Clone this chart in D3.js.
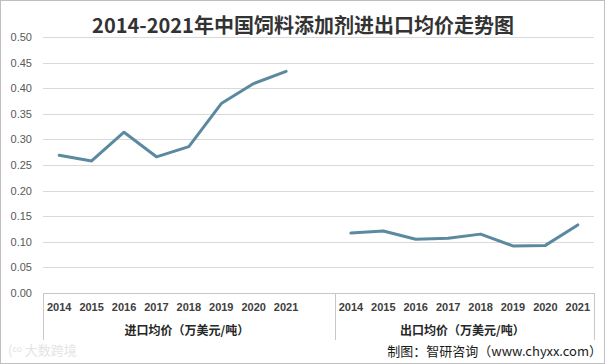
<!DOCTYPE html>
<html>
<head>
<meta charset="utf-8">
<script src="https://cdn.jsdelivr.net/npm/d3@7"></script>
<style>
  html, body { margin: 0; padding: 0; background: #fff; }
  #chart { width: 605px; height: 364px; }
</style>
</head>
<body>
<div id="chart"></div>
<script>
const YEARS = ["2014", "2015", "2016", "2017", "2018", "2019", "2020", "2021"];
const GROUPS = ["进口均价（万美元/吨）", "出口均价（万美元/吨）"];
const IMPORT_PRICE = [0.269, 0.258, 0.314, 0.266, 0.286, 0.370, 0.409, 0.433];
const EXPORT_PRICE = [0.117, 0.121, 0.105, 0.107, 0.115, 0.092, 0.093, 0.133];
const Y_TICKS = [0, 0.05, 0.1, 0.15, 0.2, 0.25, 0.3, 0.35, 0.4, 0.45, 0.5];

const W = 605, H = 364;
const plotLeft = 43, plotRight = 594, plotTop = 37, plotBottom = 293;
const LINE_COLOR = "#5b8a9f";

// left group has a trailing empty slot, like the Excel source
const slots = [
  ...YEARS.map((y) => "in-" + y), "gap",
  ...YEARS.map((y) => "out-" + y),
];

const x = d3.scaleBand().domain(slots).range([plotLeft, plotRight]).padding(0);
const y = d3.scaleLinear().domain([0, 0.5]).range([plotBottom, plotTop]);

const svg = d3.select("#chart").append("svg")
  .attr("width", W).attr("height", H)
  .attr("viewBox", `0 0 ${W} ${H}`);

svg.append("rect")
  .attr("x", 0.5).attr("y", 0.5).attr("width", W - 1).attr("height", H - 1)
  .attr("fill", "#fff").attr("stroke", "#bfbfbf");

svg.append("text")
  .attr("x", 303).attr("y", 33)
  .attr("text-anchor", "middle")
  .attr("font-family", "'Noto Sans CJK SC', sans-serif")
  .attr("font-weight", "bold")
  .attr("font-size", 20)
  .attr("fill", "#333")
  .text("2014-2021年中国饲料添加剂进出口均价走势图");

// gridlines
svg.append("g").selectAll("line")
  .data(Y_TICKS)
  .join("line")
  .attr("x1", plotLeft).attr("x2", plotRight)
  .attr("y1", (d) => Math.round(y(d)) + 0.5)
  .attr("y2", (d) => Math.round(y(d)) + 0.5)
  .attr("stroke", (d) => (d === 0 ? "#c8c8c8" : "#d9d9d9"));

// y tick labels
svg.append("g").selectAll("text")
  .data(Y_TICKS)
  .join("text")
  .attr("x", 32)
  .attr("y", (d) => y(d) + 4)
  .attr("text-anchor", "end")
  .attr("font-family", "'Liberation Sans', Arial, sans-serif")
  .attr("font-size", 11)
  .attr("fill", "#595959")
  .text((d) => d.toFixed(2));

// multi-level category axis separators
const sepX = [plotLeft, x("out-2014"), plotRight];
svg.append("g").selectAll("line")
  .data(sepX)
  .join("line")
  .attr("x1", (d) => Math.round(d) + 0.5).attr("x2", (d) => Math.round(d) + 0.5)
  .attr("y1", plotBottom).attr("y2", 340)
  .attr("stroke", "#c8c8c8");

const yearLabels = slots.filter((s) => s !== "gap");
svg.append("g").selectAll("text")
  .data(yearLabels)
  .join("text")
  .attr("x", (d) => x(d) + x.bandwidth() / 2)
  .attr("y", 311)
  .attr("text-anchor", "middle")
  .attr("font-family", "'Liberation Sans', Arial, sans-serif")
  .attr("font-weight", "bold")
  .attr("font-size", 11)
  .attr("fill", "#404040")
  .text((d) => d.slice(-4));

const groupSpans = [[plotLeft, x("out-2014")], [x("out-2014"), plotRight]];
svg.append("g").selectAll("text")
  .data(GROUPS)
  .join("text")
  .attr("x", (d, i) => (groupSpans[i][0] + groupSpans[i][1]) / 2 - 2)
  .attr("y", 335)
  .attr("text-anchor", "middle")
  .attr("font-family", "'Noto Sans CJK SC', sans-serif")
  .attr("font-weight", "bold")
  .attr("font-size", 12)
  .attr("fill", "#262626")
  .text((d) => d);

// lines
const line = d3.line()
  .x((d) => x(d.key) + x.bandwidth() / 2)
  .y((d) => y(d.value));

const series = [
  YEARS.map((yr, i) => ({ key: "in-" + yr, value: IMPORT_PRICE[i] })),
  YEARS.map((yr, i) => ({ key: "out-" + yr, value: EXPORT_PRICE[i] })),
];

svg.append("g").selectAll("path")
  .data(series)
  .join("path")
  .attr("d", line)
  .attr("fill", "none")
  .attr("stroke", LINE_COLOR)
  .attr("stroke-width", 3)
  .attr("stroke-linejoin", "round")
  .attr("stroke-linecap", "round");

// faint watermark
svg.append("text")
  .attr("x", 8).attr("y", 355)
  .attr("font-family", "'Noto Sans CJK SC', sans-serif")
  .attr("font-size", 13)
  .attr("fill", "#e4e4e4")
  .text("(ᶜᵒ 大数跨境");

svg.append("text")
  .attr("x", 602).attr("y", 356)
  .attr("text-anchor", "end")
  .attr("font-family", "'Noto Sans CJK SC', sans-serif")
  .attr("font-size", 13)
  .attr("fill", "#1a1a1a")
  .text("制图：智研咨询（www.chyxx.com）");
</script>
</body>
</html>
